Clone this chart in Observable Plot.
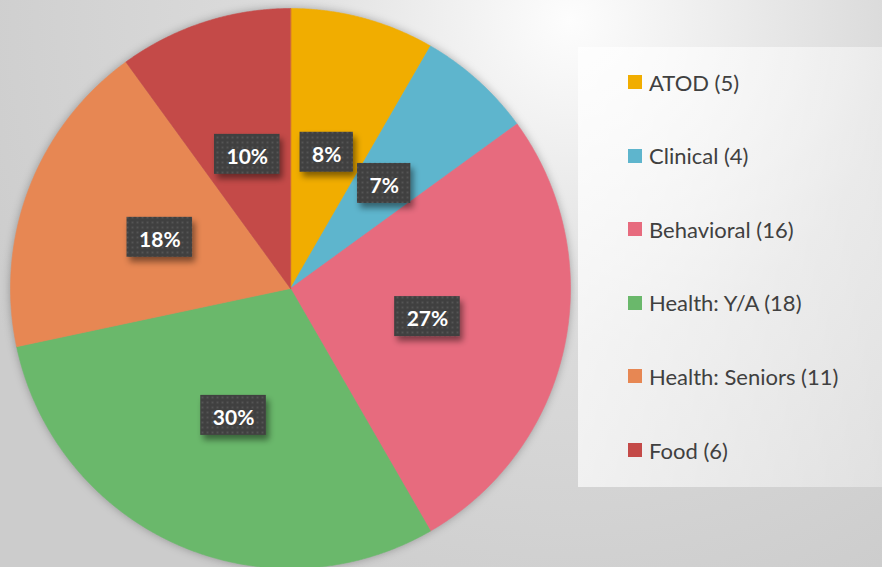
<!DOCTYPE html>
<html>
<head>
<meta charset="utf-8">
<script src="https://cdn.jsdelivr.net/npm/d3@7"></script>
<script src="https://cdn.jsdelivr.net/npm/@observablehq/plot@0.6"></script>
<style>
  html, body { margin: 0; padding: 0; }
  body {
    width: 882px; height: 567px; overflow: hidden;
    background: radial-gradient(circle 650px at 570px 20px, #fdfdfd 0%, #dadada 50%, #cccccc 100%);
    font-family: Lato, "Open Sans", sans-serif;
  }
  #wrap { position: relative; width: 882px; height: 567px; }
  #wrap > svg { position: absolute; left: 0; top: 0; }
  #legend {
    position: absolute; left: 578px; top: 47px; width: 304px; height: 440px;
    background: linear-gradient(100deg, rgba(255,255,255,0.75), rgba(255,255,255,0.35));
  }
  .row { position: absolute; left: 50px; height: 24px; display: flex; align-items: center; }
  .sw { width: 14px; height: 14px; margin-right: 7px; }
  .lab { font-size: 22px; color: #404040; white-space: nowrap; }
</style>
</head>
<body>
<div id="wrap"></div>
<script>
// ---- data ----
const categories = ["ATOD", "Clinical", "Behavioral", "Health: Y/A", "Health: Seniors", "Food"];
const counts = [5, 4, 16, 18, 11, 6];
const colors = ["#F1AD00", "#5EB5CD", "#E76B7E", "#6AB86B", "#E78753", "#C44A48"];

// ---- layout constants ----
const W = 882, H = 567, CX = 290, CY = 288, R = 280;

const total = d3.sum(counts);
const arcs = d3.pie().sort(null)(counts);

// slice polygons (unit circle, y up)
const slicePts = [];
arcs.forEach((a, i) => {
  slicePts.push({cat: categories[i], x: 0, y: 0});
  const n = Math.max(4, Math.ceil((a.endAngle - a.startAngle) / 0.005));
  for (let k = 0; k <= n; k++) {
    const t = a.startAngle + (a.endAngle - a.startAngle) * k / n;
    slicePts.push({cat: categories[i], x: Math.sin(t), y: Math.cos(t)});
  }
});

const labels = arcs.map((a, i) => {
  const m = (a.startAngle + a.endAngle) / 2;
  return {cat: categories[i], x: 0.5 * Math.sin(m), y: 0.5 * Math.cos(m), text: d3.format(".0%")(counts[i] / total)};
});

const LABEL_FONT = "bold 21px Lato";
const cnv = document.createElement("canvas").getContext("2d");
cnv.font = LABEL_FONT;

const defs = () => {
  const d = d3.create("svg:defs");
  const p = d.append("pattern").attr("id", "dots").attr("width", 5).attr("height", 5).attr("patternUnits", "userSpaceOnUse");
  p.append("rect").attr("width", 5).attr("height", 5).attr("fill", "#3f3f3f");
  p.append("rect").attr("x", 1.5).attr("y", 1.5).attr("width", 2).attr("height", 2).attr("fill", "#555555");
  const f = d.append("filter").attr("id", "boxShadow").attr("x", "-30%").attr("y", "-30%").attr("width", "170%").attr("height", "180%");
  f.append("feDropShadow").attr("dx", 3).attr("dy", 5).attr("stdDeviation", 3).attr("flood-color", "#000").attr("flood-opacity", 0.45);
  return d.node();
};

const plot = Plot.plot({
  width: W, height: H,
  margin: 0,
  style: {background: "transparent", overflow: "visible"},
  x: {domain: [-CX / R, (W - CX) / R], axis: null},
  y: {domain: [(CY - H) / R, CY / R], axis: null},
  color: {domain: categories, range: colors},
  marks: [
    defs,
    Plot.line(slicePts, {x: "x", y: "y", z: "cat", fill: "cat", stroke: "cat", strokeWidth: 0.6, curve: "linear-closed"}),
    Plot.text(labels, {
      x: "x", y: "y", text: "text", fill: "white", fontSize: 21, fontWeight: "bold", fontFamily: "Lato", dy: 2,
      render(index, scales, values, dimensions, context, next) {
        const g = next(index, scales, values, dimensions, context);
        const wrap = d3.create("svg:g");
        for (const i of index) {
          const w = cnv.measureText(labels[i].text).width + 24;
          wrap.append("rect")
            .attr("x", values.x[i] - w / 2)
            .attr("y", values.y[i] - 21)
            .attr("width", w).attr("height", 40)
            .attr("fill", "url(#dots)")
            .attr("filter", "url(#boxShadow)");
        }
        wrap.node().appendChild(g);
        return wrap.node();
      }
    })
  ]
});
d3.select(plot).selectAll('g[aria-label="line"]').style("filter", "drop-shadow(0px 0px 4px rgba(0,0,0,0.28))");

const wrapEl = document.getElementById("wrap");
wrapEl.appendChild(plot);

// legend
const legend = document.createElement("div");
legend.id = "legend";
categories.forEach((c, i) => {
  const row = document.createElement("div");
  row.className = "row";
  row.style.top = (35 + i * 73.6 - 12) + "px";
  const sw = document.createElement("div");
  sw.className = "sw";
  sw.style.background = colors[i];
  const lab = document.createElement("span");
  lab.className = "lab";
  lab.textContent = `${c} (${counts[i]})`;
  row.appendChild(sw); row.appendChild(lab);
  legend.appendChild(row);
});
wrapEl.appendChild(legend);
</script>
</body>
</html>
